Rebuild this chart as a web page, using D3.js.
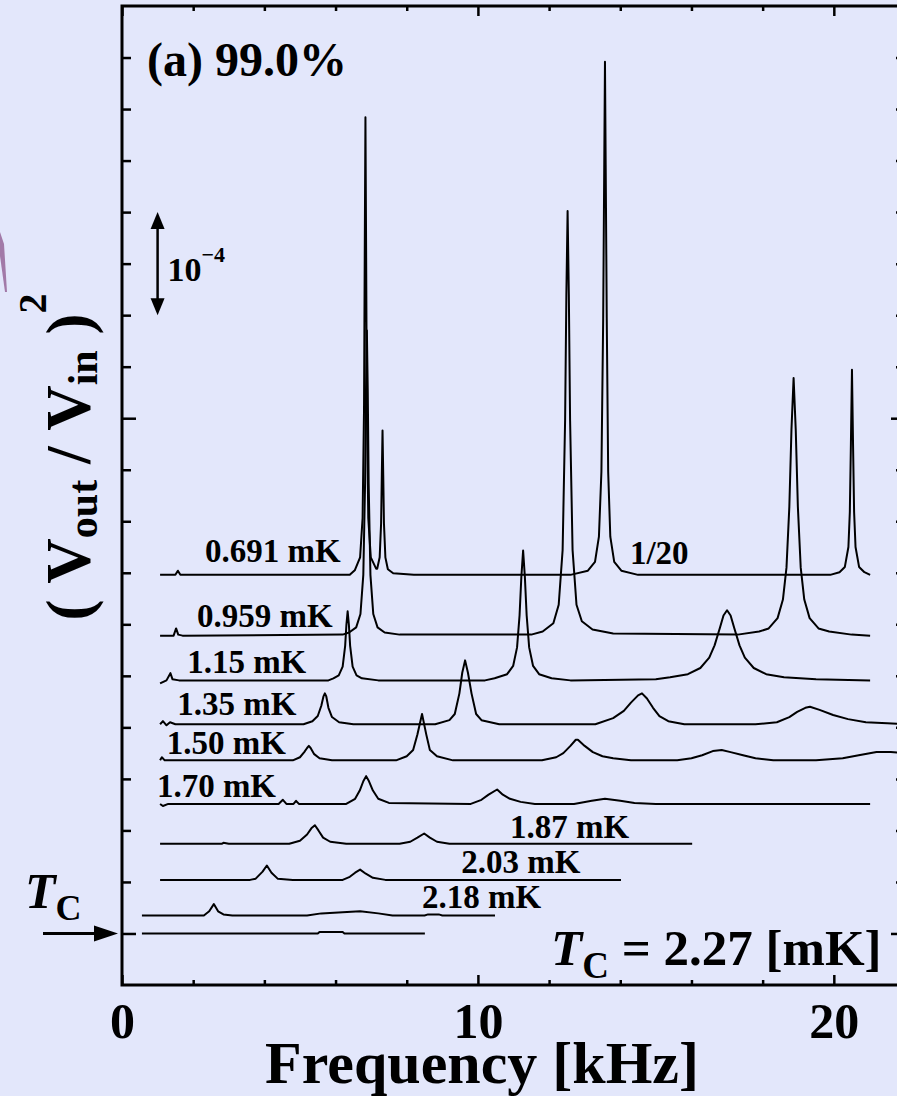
<!DOCTYPE html>
<html lang="en">
<head>
<meta charset="UTF-8">
<title>Resonance spectra, 99.0% aerogel</title>
<script src="https://cdnjs.cloudflare.com/ajax/libs/d3/7.8.5/d3.min.js"></script>
<style>
  body { margin: 0; background: #e3e7fb; }
  svg { display: block; overflow: hidden; font-family: "Liberation Serif", "Times New Roman", serif; font-weight: bold; }
</style>
</head>
<body>
<svg width="897" height="1096"></svg>
<script>
// temperatures (top to bottom) and the vertical offset of each trace, in units of 1e-4
const temps = ["0.691 mK", "0.959 mK", "1.15 mK", "1.35 mK", "1.50 mK", "1.70 mK", "1.87 mK", "2.03 mK", "2.18 mK", "Tc"]
const baselines = [3.48, 2.89, 2.456, 2.03, 1.68, 1.257, 0.87, 0.52, 0.175, 0]

// [frequency kHz, signal above own baseline (1e-4)]
const s0691 = [[1.07,0],[1.50,0],[1.57,0.04],[1.64,0],
  [6.4,0],[6.54,0.044],[6.69,0.17],[6.76,0.55],[6.80,1.6],[6.82,3.08],[6.84,4.44],[6.86,3.08],[6.88,1.6],[6.92,0.55],[6.99,0.17],[7.14,0.06],
  [7.17,0.06],[7.24,0.17],[7.28,0.5],[7.30,0.97],[7.32,1.40],[7.34,0.97],[7.36,0.5],[7.40,0.17],[7.47,0.054],[7.62,0.015],[8.2,0],
  [12.6,0],[13.09,0.04],[13.29,0.125],[13.40,0.37],[13.47,1.0],[13.52,2.49],[13.55,3.98],[13.57,4.98],[13.59,3.98],[13.62,2.49],[13.66,1.0],[13.72,0.37],[13.83,0.125],[14.03,0.04],[14.5,0],
  [19.9,0],[20.16,0.026],[20.31,0.077],[20.41,0.27],[20.45,0.61],[20.48,1.27],[20.51,1.99],[20.54,1.27],[20.57,0.61],[20.61,0.27],[20.71,0.077],[20.86,0.026],[21.02,0]]
const s0959 = [[1.07,0],[1.45,0],[1.52,0.07],[1.58,0.01],[1.7,0],
  [6.2,0.01],[6.38,0.03],[6.58,0.08],[6.70,0.21],[6.78,0.59],[6.83,1.48],[6.855,2.37],[6.88,2.96],[6.905,2.37],[6.93,1.48],[6.98,0.59],[7.06,0.21],[7.18,0.08],[7.38,0.03],[7.8,0.01],
  [11.5,0.01],[11.82,0.04],[12.12,0.12],[12.27,0.30],[12.38,0.83],[12.45,2.09],[12.485,3.30],[12.52,4.12],[12.555,3.30],[12.59,2.09],[12.66,0.83],[12.77,0.30],[12.92,0.14],[13.22,0.06],[13.8,0.02],
  [17.3,0.01],[17.9,0.04],[18.17,0.07],[18.42,0.17],[18.57,0.35],[18.67,0.66],[18.75,1.25],[18.81,2.0],[18.87,2.5],[18.93,2.0],[18.99,1.25],[19.07,0.66],[19.17,0.35],[19.32,0.17],[19.57,0.07],[19.87,0.04],[20.5,0.01],[21.02,0]]
const s115 = [[1.07,-0.03],[1.25,0],[1.36,0.07],[1.42,0.01],[1.6,0],
  [5.8,0],[5.94,0.02],[6.09,0.049],[6.20,0.134],[6.27,0.335],[6.305,0.54],[6.34,0.67],[6.375,0.54],[6.41,0.335],[6.48,0.134],[6.59,0.049],[6.74,0.02],[7.2,0],
  [10.2,0],[10.47,0.02],[10.82,0.06],[10.99,0.14],[11.10,0.32],[11.17,0.63],[11.22,1.0],[11.27,1.26],[11.32,1.0],[11.37,0.63],[11.44,0.32],[11.55,0.14],[11.72,0.06],[12.07,0.02],[12.6,0],
  [15.0,0.01],[15.4,0.03],[15.9,0.06],[16.25,0.12],[16.5,0.22],[16.65,0.34],[16.8,0.51],[16.9,0.63],[17.0,0.68],[17.1,0.63],[17.2,0.51],[17.35,0.34],[17.5,0.22],[17.75,0.12],[18.1,0.06],[18.6,0.03],[19.5,0.01],[21.02,0]]
const s135 = [[1.07,0],[1.15,0.03],[1.25,-0.01],[1.35,0.02],[1.5,0],
  [5.1,0],[5.35,0.03],[5.5,0.08],[5.6,0.18],[5.66,0.27],[5.70,0.30],[5.74,0.27],[5.80,0.16],[5.9,0.07],[6.1,0.02],[6.5,0],
  [8.8,0],[9.2,0.04],[9.35,0.1],[9.48,0.3],[9.56,0.5],[9.64,0.62],[9.72,0.5],[9.82,0.3],[9.95,0.1],[10.1,0.04],[10.6,0],
  [13.3,0],[13.8,0.06],[14.1,0.13],[14.3,0.21],[14.5,0.28],[14.61,0.30],[14.75,0.25],[14.92,0.16],[15.1,0.08],[15.35,0.03],[15.8,0],
  [17.8,0],[18.4,0.02],[18.75,0.07],[18.97,0.12],[19.2,0.16],[19.33,0.17],[19.6,0.14],[19.98,0.09],[20.4,0.05],[20.9,0.02],[21.5,0.01],[22,0]]
const s150 = [[1.07,0],[1.12,0.03],[1.2,0],
  [4.8,0],[5.0,0.03],[5.12,0.08],[5.2,0.12],[5.25,0.14],[5.3,0.12],[5.4,0.06],[5.55,0.02],[5.9,0],
  [7.7,0],[8.0,0.04],[8.18,0.1],[8.3,0.25],[8.43,0.45],[8.55,0.25],[8.65,0.1],[8.85,0.04],[9.3,0],
  [11.8,0],[12.2,0.03],[12.4,0.07],[12.6,0.14],[12.75,0.2],[12.81,0.2],[13.0,0.14],[13.23,0.08],[13.5,0.04],[13.8,0.02],[14.3,0],
  [15.6,0],[16.0,0.02],[16.3,0.05],[16.6,0.09],[16.85,0.1],[17.1,0.08],[17.45,0.05],[17.8,0.02],[18.3,0],
  [19.5,0],[20.25,0.02],[20.7,0.05],[21.2,0.08],[21.6,0.08],[22,0.07]]
const s170 = [[1.07,0],[1.15,-0.02],[1.3,0],
  [4.4,0],[4.52,0.04],[4.62,0],[4.82,0],[4.89,0.03],[4.97,0],
  [6.3,0],[6.55,0.05],[6.68,0.13],[6.78,0.22],[6.86,0.27],[6.94,0.22],[7.05,0.13],[7.2,0.05],[7.5,0.01],
  [9.8,0],[10.1,0.04],[10.3,0.09],[10.54,0.14],[10.7,0.09],[10.9,0.05],[11.2,0.02],[11.6,0],
  [12.7,0],[13.2,0.03],[13.57,0.05],[14.0,0.03],[14.4,0.01],[15,0],[21.02,0]]
const s187 = [[1.07,0],[2.8,0],[2.85,0.01],[3.0,0],
  [4.7,0],[5.0,0.03],[5.2,0.09],[5.32,0.15],[5.42,0.18],[5.52,0.13],[5.65,0.06],[5.85,0.02],[6.3,0],
  [7.8,0],[8.1,0.02],[8.3,0.06],[8.49,0.10],[8.65,0.06],[8.85,0.02],[9.2,0],[16.02,0]]
const s203 = [[1.07,0],[3.6,0],[3.75,0.01],[3.95,0.08],[4.07,0.14],[4.2,0.07],[4.38,0.01],[4.8,0],
  [6.2,0],[6.4,0.03],[6.55,0.07],[6.69,0.10],[6.85,0.06],[7.05,0.02],[7.4,0],[14.02,0]]
const s218 = [[0.56,0],[2.3,0],[2.45,0.04],[2.58,0.11],[2.7,0.04],[2.85,0.01],[3.1,0],
  [5.2,0],[5.6,0.02],[6.2,0.03],[6.69,0.04],[7.2,0.02],[7.6,0],[8.5,0],[8.6,0.01],[8.9,0.01],[9.0,0],[10.48,0]]
const sTc = [[0.56,0],[5.5,0],[5.55,0.015],[6.2,0.015],[6.25,0],[8.51,0]]
const spectra = [s0691, s0959, s115, s135, s150, s170, s187, s203, s218, sTc]

// x ticks (kHz) and y ticks (1e-4)
const xMinorTicks = [2, 4, 6, 8, 12, 14, 16, 18]
const xMajorTicks = [0, 10, 20]
const yMinorTicks = [0.5, 1, 1.5, 2, 2.5, 3, 3.5, 4, 4.5, 5.5, 6, 6.5, 7, 7.5, 8, 8.5]
const yMajorTicks = [0, 5]

// where each temperature label sits: [kHz, 1e-4]
const labelAt = [[2.33,3.60],[2.11,2.97],[1.83,2.53],[1.55,2.12],[1.26,1.74],[0.98,1.32],[10.90,0.93],[9.53,0.59],[8.43,0.25]]

const svg = d3.select('svg')
const x = d3.scaleLinear().domain([0, 22]).range([122, 905])
const y = d3.scaleLinear().domain([-0.5, 9.0]).range([985, 6])
const ink = '#000'

svg.append('defs').append('clipPath').attr('id', 'plot')
  .append('rect').attr('x', x(0)).attr('y', y(9)).attr('width', x(22) - x(0)).attr('height', y(-0.5) - y(9))

// small purple sliver at the left edge of the slide
svg.append('path').attr('d', 'M0,232 L4,244 L7,292 L5,292 L0,256 Z').attr('fill', '#a27aa8')

// traces
const line = d3.line().x(d => x(d[0])).y(d => y(d[1]))
svg.append('g').attr('clip-path', 'url(#plot)')
  .selectAll('path')
  .data(spectra)
  .enter()
  .append('path')
  .attr('d', (d, i) => line(d.map(p => [p[0], p[1] + baselines[i]])))
  .attr('fill', 'none')
  .attr('stroke', ink)
  .attr('stroke-width', 2)
  .attr('stroke-linejoin', 'round')

// ticks, all pointing inward
function tickGroup(axis, tx, ty) {
  const g = svg.append('g').attr('transform', 'translate(' + tx + ',' + ty + ')').call(axis)
  g.select('.domain').remove()
  g.selectAll('line').attr('stroke', ink).attr('stroke-width', 2.5)
  g.selectAll('text').remove()
  return g
}
tickGroup(d3.axisTop(x).tickValues(xMinorTicks).tickSize(5), 0, y(-0.5))
tickGroup(d3.axisTop(x).tickValues(xMajorTicks).tickSize(10), 0, y(-0.5))
tickGroup(d3.axisBottom(x).tickValues(xMinorTicks).tickSize(5), 0, y(9))
tickGroup(d3.axisBottom(x).tickValues(xMajorTicks).tickSize(10), 0, y(9))
tickGroup(d3.axisRight(y).tickValues(yMinorTicks).tickSize(9), x(0), 0)
tickGroup(d3.axisRight(y).tickValues(yMajorTicks).tickSize(14), x(0), 0)
tickGroup(d3.axisLeft(y).tickValues(yMinorTicks).tickSize(9), x(22), 0)
tickGroup(d3.axisLeft(y).tickValues(yMajorTicks).tickSize(14), x(22), 0)

// frame
svg.append('rect')
  .attr('x', x(0)).attr('y', y(9))
  .attr('width', x(22) - x(0)).attr('height', y(-0.5) - y(9))
  .attr('fill', 'none').attr('stroke', ink).attr('stroke-width', 3)

// x tick labels
const xl = svg.append('g').attr('transform', 'translate(0,' + y(-0.5) + ')')
  .call(d3.axisBottom(x).tickValues(xMajorTicks).tickSize(0).tickPadding(17).tickFormat(d3.format('d')))
xl.attr('font-family', null).attr('font-size', null)
xl.select('.domain').remove()
xl.selectAll('text').attr('font-size', 50).attr('fill', ink)

svg.append('text')
  .attr('x', 482).attr('y', 1083)
  .attr('text-anchor', 'middle').attr('font-size', 60)
  .text('Frequency [kHz]')

// y label
const yl = svg.append('text')
  .attr('transform', 'translate(90,457) rotate(-90)')
  .attr('text-anchor', 'middle').attr('font-size', 63)
yl.append('tspan').text('(\u00a0V')
yl.append('tspan').attr('font-size', 42).attr('dy', 7).text('out')
yl.append('tspan').attr('dy', -7).text('\u00a0/\u00a0V')
yl.append('tspan').attr('font-size', 42).attr('dy', 7).text('in')
yl.append('tspan').attr('dy', -7).text('\u00a0)')
yl.append('tspan').attr('font-size', 40).attr('dy', -44).text('2')

// panel title
svg.append('text').attr('x', 147).attr('y', 76).attr('font-size', 48).text('(a) 99.0%')

// temperature labels
svg.append('g').selectAll('text')
  .data(labelAt)
  .enter()
  .append('text')
  .attr('x', d => x(d[0]))
  .attr('y', d => y(d[1]))
  .attr('font-size', 33)
  .text((d, i) => temps[i])

svg.append('text').attr('x', x(14.27)).attr('y', y(3.59)).attr('font-size', 33).text('1/20')

// scale bar: 1e-4
const bar = svg.append('g')
const bx = x(1.0)
bar.append('line').attr('x1', bx).attr('x2', bx).attr('y1', y(7) + 12).attr('y2', y(6) - 12)
  .attr('stroke', ink).attr('stroke-width', 2.5)
bar.append('path').attr('fill', ink)
  .attr('d', 'M' + bx + ',' + y(7) + 'l7,17h-14z')
bar.append('path').attr('fill', ink)
  .attr('d', 'M' + bx + ',' + y(6) + 'l7,-17h-14z')
const bt = bar.append('text').attr('x', bx + 10).attr('y', y(6.5) + 17).attr('font-size', 34)
bt.append('tspan').text('10')
bt.append('tspan').attr('font-size', 22).attr('dy', -19).text('\u22124')

// Tc marker on the left
const tcl = svg.append('text').attr('x', 25).attr('y', 908).attr('font-size', 50)
tcl.append('tspan').attr('font-style', 'italic').text('T')
tcl.append('tspan').attr('font-size', 36).attr('dy', 12).text('C')
svg.append('line').attr('x1', 43).attr('x2', 100).attr('y1', y(0)).attr('y2', y(0))
  .attr('stroke', ink).attr('stroke-width', 3)
svg.append('path').attr('fill', ink)
  .attr('d', 'M' + 118 + ',' + y(0) + 'l-24,-8v16z')

// Tc value
const tcv = svg.append('text').attr('x', 551).attr('y', 965).attr('font-size', 51)
tcv.append('tspan').attr('font-style', 'italic').text('T')
tcv.append('tspan').attr('font-size', 37).attr('dy', 13).text('C')
tcv.append('tspan').attr('dy', -13).text('\u00a0= 2.27 [mK]')
</script>
</body>
</html>
